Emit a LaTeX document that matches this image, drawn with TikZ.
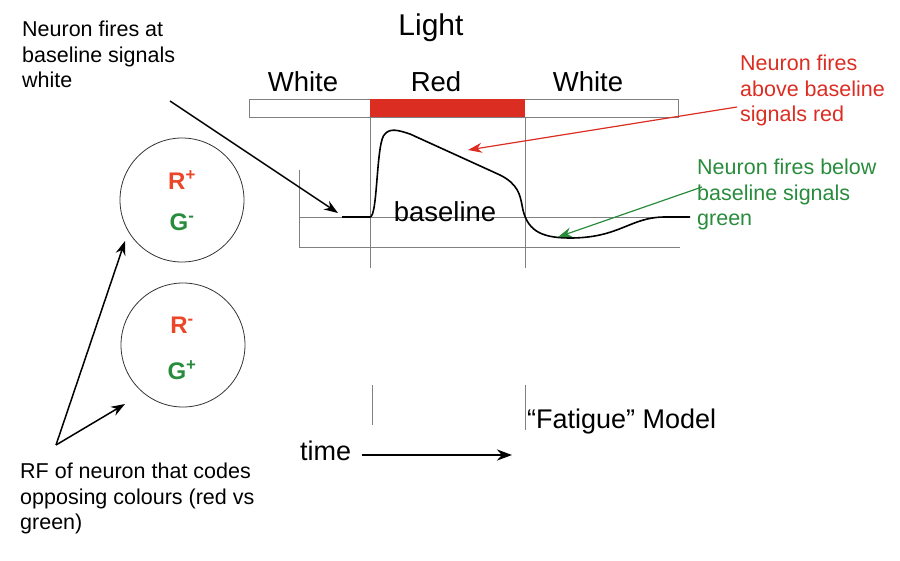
\documentclass[tikz,border=0pt]{standalone}
\usepackage{fontspec}
\setmainfont{Liberation Sans}
\usetikzlibrary{arrows.meta}
\definecolor{rred}{RGB}{220,45,35}
\definecolor{ggreen}{RGB}{40,140,60}
\definecolor{ttxt}{RGB}{235,70,40}
\begin{document}
\begin{tikzpicture}[x=1pt,y=-1pt,
  lab/.style={font=\fontsize{21.5}{25.5}\selectfont,align=left,inner sep=0pt},
  big/.style={font=\fontsize{27.5}{32}\selectfont,inner sep=0pt},
  grid/.style={gray,line width=0.6pt},
  arr/.style={-{Stealth[length=14pt,width=10pt]},line width=1.5pt},
  pm/.style={font=\bfseries\fontsize{24}{28}\selectfont},
  rf/.style={circle,draw=black!80,line width=0.8pt,minimum size=124pt,inner sep=0pt}]
\useasboundingbox (0,0) rectangle (900,560);
\node[big,font=\fontsize{30}{34}\selectfont] (light) at (431,28) {Light};
\node[big] (w1) at (303,82) {White};
\node[big] (r1) at (436,82) {Red};
\node[big] (w2) at (588,82) {White};
\draw[gray,line width=0.8pt] (249,99) rectangle (678,117);
\fill[rred] (370,99) rectangle (525,117);
\draw[grid] (370,117) -- (370,268);
\draw[grid] (525,117) -- (525,268);
\draw[grid] (299,170) -- (299,248);
\draw[grid] (299,217) -- (690,217);
\draw[grid] (299,247) -- (680,247);
\draw[grid] (372,385) -- (372,425);
\draw[grid] (525,385) -- (525,430);
\node[big] (bl) at (445,212) {baseline};
\draw[line width=1.6pt] (342,217) -- (370,217) .. controls (378,217) and (376,140) .. (385,134)
  .. controls (390,128) and (398,130) .. (410,134) -- (500,175)
  .. controls (518,184) and (520,195) .. (522,205)
  .. controls (526,230) and (540,238) .. (570,238)
  .. controls (620,238) and (630,217) .. (665,217) -- (690,217);
\coordinate (curA) at (338,213);
\coordinate (curR) at (468,150);
\coordinate (curG) at (558,237);
\node[lab,anchor=north west] (t1) at (22,21) {Neuron fires at\\baseline signals\\white};
\node[lab,anchor=north west,text=rred] (t2) at (740,55) {Neuron fires\\above baseline\\signals red};
\node[lab,anchor=north west,text=ggreen] (t3) at (697,159) {Neuron fires below\\baseline signals\\green};
\node[lab,anchor=north west] (t4) at (20,463) {RF of neuron that codes\\opposing colours (red vs\\green)};
\coordinate (a1) at (170,101);
\coordinate (a2) at (737,107);
\coordinate (a3) at (702,187);
\coordinate (a4) at (56,445);
\draw[arr] (a1) -- (curA);
\draw[arr,rred,line width=1.2pt] (a2) -- (curR);
\draw[arr,ggreen,line width=1.2pt] (a3) -- (curG);
\node[rf] (c1) at (182,200) {};
\node[rf] (c2) at (183,345) {};
\node[pm,text=ttxt] at (182,180) {R\textsuperscript{+}};
\node[pm,text=ggreen] at (182,222) {G\textsuperscript{-}};
\node[pm,text=ttxt] at (182,325) {R\textsuperscript{-}};
\node[pm,text=ggreen] at (182,370) {G\textsuperscript{+}};
\draw[arr] (a4) -- (125,241);
\draw[arr] (a4) -- (125,404);
\node[lab,font=\fontsize{27}{31}\selectfont,anchor=west] (fm) at (527,422) {“Fatigue” Model};
\node[lab,font=\fontsize{27}{31}\selectfont,anchor=west] (time) at (300,451) {time};
\coordinate (ts) at (362,455);
\coordinate (te) at (512,455);
\draw[-{Stealth[length=15pt,width=11pt]},line width=2.6pt] (ts) -- (te);
\end{tikzpicture}
\end{document}
